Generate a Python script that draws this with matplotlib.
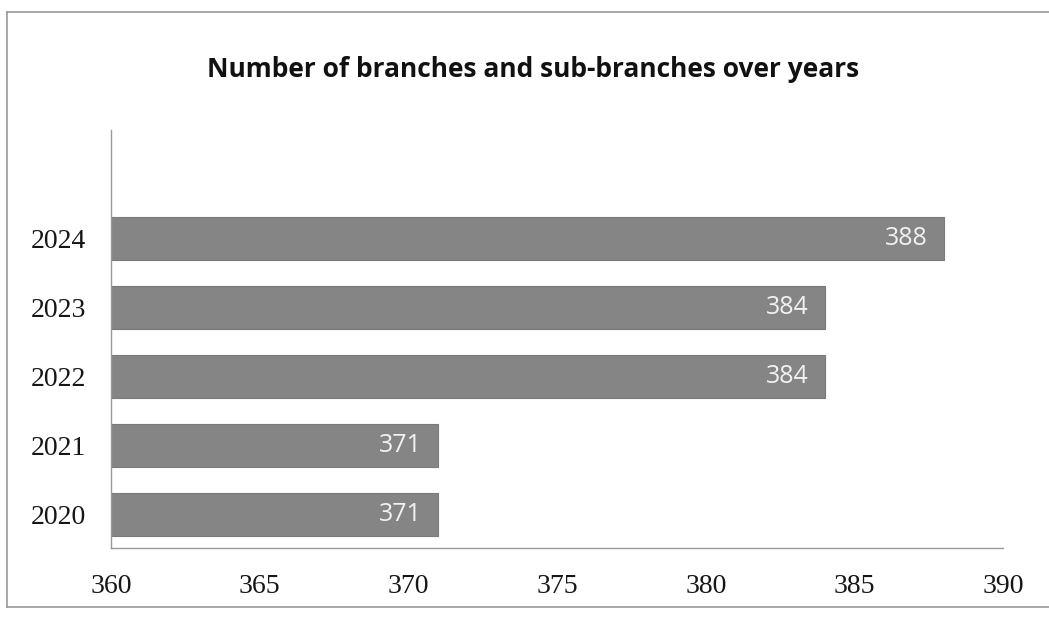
import matplotlib
matplotlib.use("Agg")
import matplotlib.pyplot as plt
from matplotlib.lines import Line2D

years = ["2020", "2021", "2022", "2023", "2024"]
branches = [371, 371, 384, 384, 388]
x_ticks = [360, 365, 370, 375, 380, 385, 390]
title = "Number of branches and sub-branches over years"

fig = plt.figure(figsize=(10.49, 6.24), dpi=100)
ax = fig.add_axes([0.1058, 0.1218, 0.8508, 0.67])

pos = list(range(len(years)))
bars = ax.barh(pos, [b - 360 for b in branches], left=360, height=0.62,
               color="#858585", edgecolor="#7a7a7a", linewidth=0.8)

ax.set_xlim(360, 390)
ax.set_ylim(-0.48, 5.57)
ax.set_xticks(x_ticks)
ax.set_xticklabels([str(t) for t in x_ticks], family="Liberation Serif",
                   fontsize=20, color="#161616")
ax.set_yticks(pos)
ax.set_yticklabels(years, family="Liberation Serif", fontsize=20, color="#161616")
ax.tick_params(axis="x", length=0, pad=19)
ax.tick_params(axis="y", length=0, pad=18)

for side in ("top", "right"):
    ax.spines[side].set_visible(False)
for side in ("left", "bottom"):
    ax.spines[side].set_color("#9a9a9a")
    ax.spines[side].set_linewidth(1.0)

for p, v in zip(pos, branches):
    ax.text(v - 0.55, p, str(v), ha="right", va="center",
            family="Open Sans", fontsize=18, color="#f2f2f2")

fig.text(0.508, 0.888, title, ha="center", va="center",
         family="Open Sans", fontweight="bold", fontsize=19, color="#111111")

# frame around the chart area (top, left and bottom edges)
frame_kw = dict(color="#9a9a9a", linewidth=1.2, transform=fig.transFigure)
fig.add_artist(Line2D([0.007, 1.0], [0.981, 0.981], **frame_kw))
fig.add_artist(Line2D([0.007, 0.007], [0.027, 0.981], **frame_kw))
fig.add_artist(Line2D([0.007, 1.0], [0.027, 0.027], **frame_kw))

fig.savefig("out.png", dpi=100, facecolor="white")
